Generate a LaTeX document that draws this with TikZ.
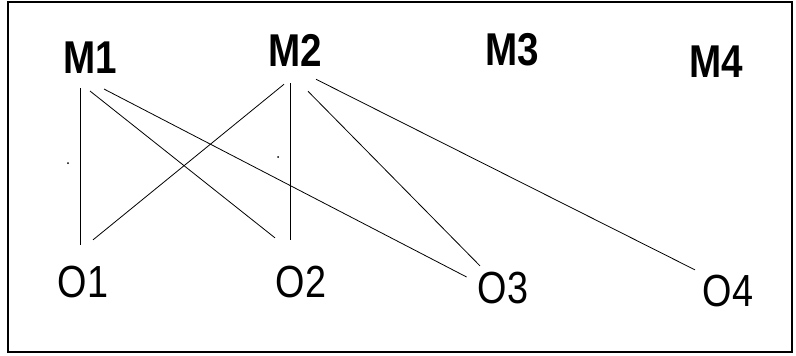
\documentclass[tikz,border=0pt]{standalone}
\usepackage{fontspec}
\setmainfont{Liberation Sans}
\newfontfamily\tagfont[FakeStretch=0.84]{Liberation Sans}
\usetikzlibrary{positioning}

\begin{document}
\begin{tikzpicture}[
  x=1pt,y=-1pt,
  mach/.style={inner sep=0pt,font=\tagfont\fontsize{46}{50}\selectfont\bfseries},
  obj/.style={inner sep=0pt,font=\tagfont\fontsize{45}{50}\selectfont},
  link/.style={line width=0.8pt,black},
]
\useasboundingbox (0,0) rectangle (796,356);

% frame
\draw[line width=2pt] (8,2) rectangle (792,352);

% top row
\node[mach] (m1) at (90,58) {M1};
\node[mach] (m2) at (295,50) {M2};
\node[mach] (m3) at (512,50) {M3};
\node[mach] (m4) at (716,62) {M4};

% bottom row
\node[obj] (o1) at (83,282) {O1};
\node[obj] (o2) at (301,282) {O2};
\node[obj] (o3) at (503,288) {O3};
\node[obj] (o4) at (728,291) {O4};

% links from M1
\draw[link] ([shift={(-10,14)}]m1.south) -- ([shift={(-3,-21)}]o1.north);
\draw[link] ([shift={(0,17)}]m1.south) -- ([shift={(-26,-28)}]o2.north);
\draw[link] ([shift={(14,15)}]m1.south) -- ([shift={(-11,-11)}]o3.west);

% links from M2
\draw[link] ([shift={(-11,18)}]m2.south) -- ([shift={(10,-26)}]o1.north);
\draw[link] ([shift={(-5,17)}]m2.south) -- ([shift={(-11,-26)}]o2.north);
\draw[link] ([shift={(13,25)}]m2.south) -- ([shift={(-23,-6)}]o3.north);
\draw[link] ([shift={(21,13)}]m2.south) -- ([shift={(-33,-5)}]o4.north);

% stray dots
\fill (68,163) circle (1pt);
\fill (278,157) circle (1pt);
\end{tikzpicture}
\end{document}
